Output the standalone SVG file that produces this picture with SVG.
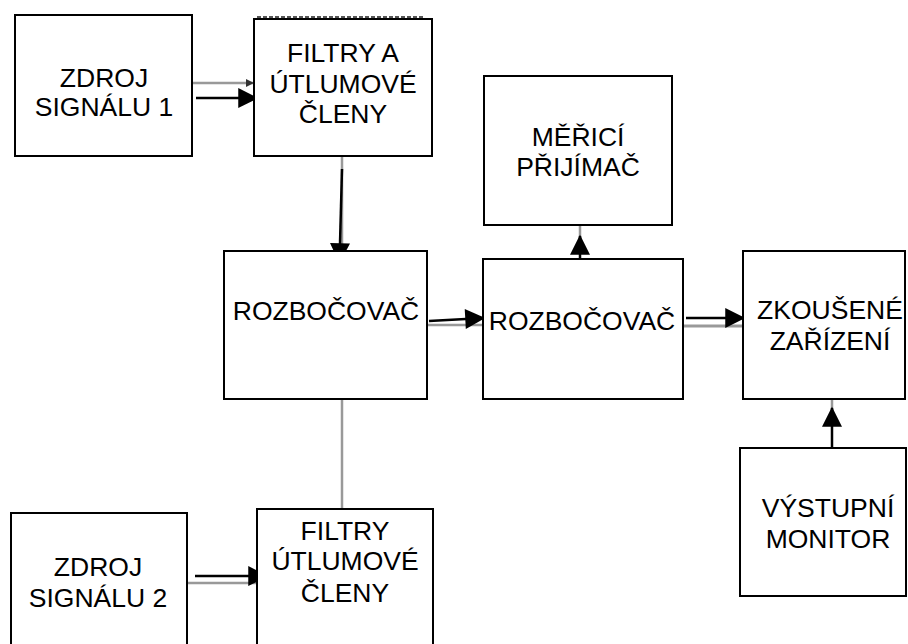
<svg xmlns="http://www.w3.org/2000/svg" width="908" height="644" viewBox="0 0 908 644">
<defs>
<style>
.box{fill:#fff;stroke:#000;stroke-width:2}
.t{font-family:"Liberation Sans",Arial,sans-serif;font-size:26.5px;fill:#000;text-anchor:middle}
.blk{stroke:#000;stroke-width:2.5;fill:none}
.gry{stroke:#999;stroke-width:2.5;fill:none}
</style>
<marker id="ah" viewBox="0 0 16 16" refX="15" refY="8" markerWidth="20" markerHeight="20" markerUnits="userSpaceOnUse" orient="auto" overflow="visible">
<path d="M0,0 L16,8 L0,16 z" fill="#000"/>
</marker>
<marker id="ahs" viewBox="0 0 10 10" refX="10" refY="5" markerWidth="8" markerHeight="8" markerUnits="userSpaceOnUse" orient="auto">
<path d="M0,0 L10,5 L0,10 z" fill="#333"/>
</marker>
</defs>
<rect width="908" height="644" fill="#fff"/>
<g id="connectors">
<line class="gry" x1="192" y1="83" x2="254" y2="83" marker-end="url(#ahs)"/>
<line class="blk" x1="196" y1="98" x2="257" y2="98" marker-end="url(#ah)"/>
<line class="gry" x1="342" y1="156" x2="342" y2="251"/>
<line class="blk" x1="342" y1="169" x2="339.5" y2="262" marker-end="url(#ah)"/>
<line class="gry" x1="427" y1="325" x2="483" y2="325"/>
<line class="blk" x1="429" y1="321" x2="484" y2="318" marker-end="url(#ah)"/>
<line class="gry" x1="580" y1="225" x2="580" y2="240"/>
<line class="blk" x1="580" y1="267" x2="580" y2="236" marker-end="url(#ah)"/>
<line class="gry" x1="683" y1="326" x2="743" y2="326" style="stroke-width:3"/>
<line class="blk" x1="686" y1="318" x2="744" y2="318" marker-end="url(#ah)"/>
<line class="gry" x1="832" y1="399" x2="832" y2="412"/>
<line class="blk" x1="832" y1="462" x2="832" y2="408" marker-end="url(#ah)"/>
<line class="gry" x1="342" y1="399" x2="342" y2="509"/>
<line class="gry" x1="187" y1="583" x2="257" y2="583"/>
<line class="blk" x1="195" y1="576" x2="267" y2="576" marker-end="url(#ah)"/>
</g>
<g id="zdroj1">
<rect class="box" x="15" y="15" width="177" height="141"/>
<text class="t" x="104" y="87">ZDROJ</text>
<text class="t" x="104" y="116">SIGNÁLU 1</text>
</g>
<g id="filtry1">
<line x1="257" y1="17" x2="425" y2="17" stroke="#555" stroke-width="2" stroke-dasharray="4 2"/>
<rect class="box" x="254" y="19" width="178" height="137"/>
<text class="t" x="343" y="62">FILTRY A</text>
<text class="t" x="343" y="93">ÚTLUMOVÉ</text>
<text class="t" x="343" y="123">ČLENY</text>
</g>
<g id="merici">
<rect class="box" x="484" y="76" width="188" height="149"/>
<text class="t" x="578" y="146">MĚŘICÍ</text>
<text class="t" x="578" y="176">PŘIJÍMAČ</text>
</g>
<g id="rozb1">
<rect class="box" x="224" y="251" width="203" height="148"/>
<text class="t" x="326" y="320">ROZBOČOVAČ</text>
</g>
<g id="rozb2">
<rect class="box" x="483" y="259" width="200" height="140"/>
<text class="t" x="582" y="330">ROZBOČOVAČ</text>
</g>
<g id="zkousene">
<rect class="box" x="743" y="251" width="162" height="148"/>
<text class="t" x="830" y="319">ZKOUŠENÉ</text>
<text class="t" x="830" y="350">ZAŘÍZENÍ</text>
</g>
<g id="monitor">
<rect class="box" x="740" y="448" width="166" height="148"/>
<text class="t" x="828" y="517">VÝSTUPNÍ</text>
<text class="t" x="828" y="548">MONITOR</text>
</g>
<g id="zdroj2">
<rect class="box" x="11" y="513" width="176" height="140"/>
<text class="t" x="98" y="576">ZDROJ</text>
<text class="t" x="98" y="607">SIGNÁLU 2</text>
</g>
<g id="filtry2">
<rect class="box" x="257" y="509" width="176" height="145"/>
<text class="t" x="345" y="540">FILTRY</text>
<text class="t" x="345" y="570">ÚTLUMOVÉ</text>
<text class="t" x="345" y="602">ČLENY</text>
</g>
</svg>
